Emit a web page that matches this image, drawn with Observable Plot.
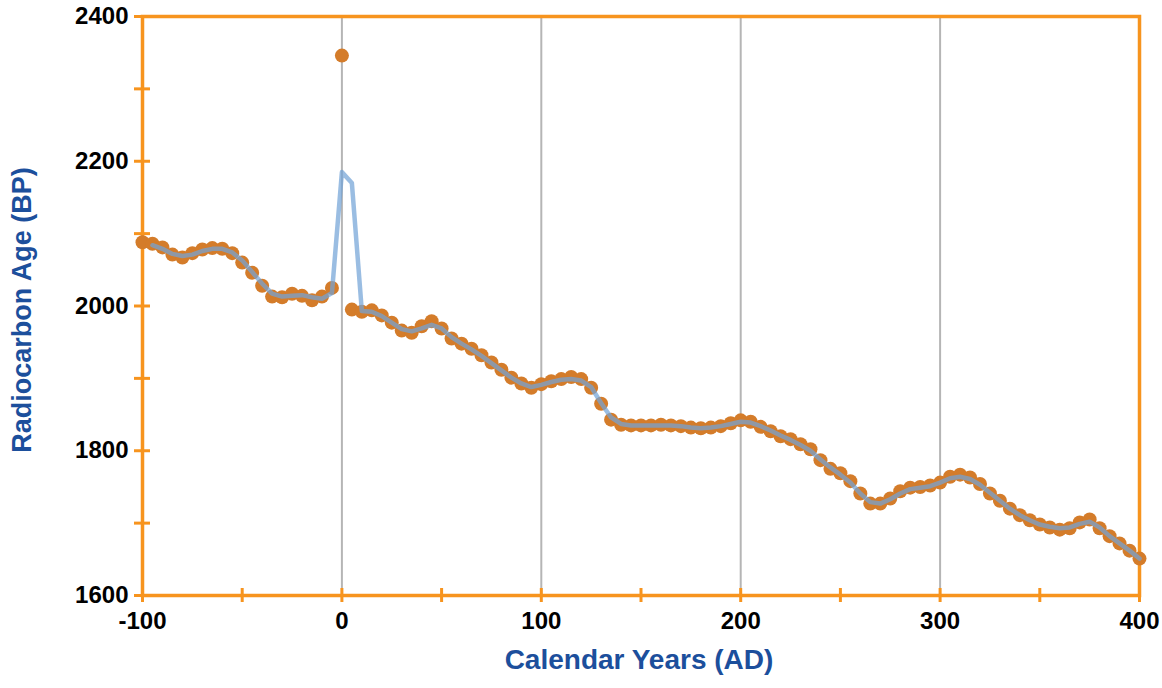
<!DOCTYPE html>
<html><head><meta charset="utf-8">
<script src="https://cdn.jsdelivr.net/npm/d3@7"></script>
<script src="https://cdn.jsdelivr.net/npm/@observablehq/plot@0.6"></script>
<style>body{margin:0;background:#fff} svg{display:block}</style>
</head><body><div id="chart"></div>
<script>
// Calendar years (AD), 5-year steps
const years = [-100,-95,-90,-85,-80,-75,-70,-65,-60,-55,-50,-45,-40,-35,-30,-25,-20,-15,-10,-5,
  0,5,10,15,20,25,30,35,40,45,50,55,60,65,70,75,80,85,90,95,
  100,105,110,115,120,125,130,135,140,145,150,155,160,165,170,175,180,185,190,195,
  200,205,210,215,220,225,230,235,240,245,250,255,260,265,270,275,280,285,290,295,
  300,305,310,315,320,325,330,335,340,345,350,355,360,365,370,375,380,385,390,395,400];
// Radiocarbon age (BP) of each point
const dotAge = [2088,2086,2081,2071,2067,2073,2078,2080,2079,2073,2060,2046,2028,2013,2012,2017,2014,2008,2013,2025,
  2346,1995,1992,1994,1987,1977,1966,1963,1972,1979,1969,1955,1948,1941,1932,1922,1912,1901,1893,1887,
  1892,1896,1899,1902,1899,1887,1865,1843,1836,1835,1835,1835,1836,1835,1834,1832,1831,1832,1834,1838,
  1842,1840,1833,1827,1820,1816,1809,1802,1787,1775,1769,1758,1741,1727,1727,1734,1744,1749,1750,1752,
  1756,1764,1767,1763,1754,1741,1731,1720,1711,1704,1698,1694,1691,1693,1701,1705,1693,1682,1672,1662,1651];
// Smoothed curve (starts at -95)
const lineYears = years.slice(1);
const lineAge = [2084,2079,2072,2069,2071,2076,2079,2079,2074,2063,2047,2031,2017,2013,2014,2015,2012,2010,2018,
  2185,2170,1993,1992,1986,1977,1968,1965,1969,1974,1969,1957,1948,1940,1931,1921,1911,1901,1893,1888,
  1891,1895,1898,1899,1897,1888,1866,1846,1837,1835,1835,1835,1835,1835,1834,1832,1831,1832,1834,1837,
  1840,1839,1834,1828,1821,1815,1808,1800,1788,1777,1767,1756,1741,1729,1727,1733,1741,1747,1749,1751,
  1756,1762,1764,1761,1753,1742,1731,1720,1711,1704,1698,1695,1693,1694,1699,1702,1694,1682,1672,1662,1651];
const gridYears = [0,100,200,300];
const xTickMarks = [-100,-50,0,50,100,150,200,250,300,350,400];
const xTickLabels = [-100,0,100,200,300,400];
const yTickMarks = [1600,1700,1800,1900,2000,2100,2200,2300,2400];
const yTickLabels = [1600,1800,2000,2200,2400];
const xTitle = "Calendar Years (AD)";
const yTitle = "Radiocarbon Age (BP)";

const dots = years.map((x,i)=>({x, y: dotAge[i]}));
const curve = lineYears.map((x,i)=>({x, y: lineAge[i]}));

const W=1162, H=688, mL=142, mR=23, mT=16, mB=93;
const plotW = W-mL-mR, plotH = H-mT-mB;
const orange = "#f7941e", blue = "#1c4f9c";

const chart = Plot.plot({
  width: W, height: H, marginLeft: mL, marginRight: mR, marginTop: mT, marginBottom: mB,
  style: {fontFamily: "'Liberation Sans', Arial, sans-serif", fontWeight: "bold", fontSize: "24px", color: "#000", background: "#fff", overflow: "visible"},
  x: {domain: [-100, 400], ticks: xTickLabels, tickSize: 0, tickPadding: 16, tickFormat: d => String(d), label: null},
  y: {domain: [1600, 2400], ticks: yTickLabels, tickSize: 0, tickPadding: 14, tickFormat: d => String(d), label: null},
  marks: [
    Plot.ruleX(gridYears, {x: d => d, stroke: "#b5b5b5", strokeWidth: 2}),
    Plot.frame({stroke: orange, strokeWidth: 3.5}),
    Plot.tickX(xTickMarks, {x: d => d, stroke: orange, strokeWidth: 3, insetTop: plotH - 7, insetBottom: -7}),
    Plot.tickY(yTickMarks, {y: d => d, stroke: orange, strokeWidth: 3, insetLeft: -8, insetRight: plotW - 8}),
    Plot.dot(dots, {x: "x", y: "y", r: 7, fill: "#d47c2a", stroke: "none"}),
    Plot.line(curve, {x: "x", y: "y", stroke: "#73a4d7", strokeWidth: 4.5, strokeOpacity: 0.72}),
    Plot.text([xTitle], {text: d => d, frameAnchor: "bottom", textAnchor: "middle", dx: -2, dy: 73, fill: blue, fontSize: 28, fontWeight: "bold"}),
    Plot.text([yTitle], {text: d => d, frameAnchor: "left", textAnchor: "middle", dx: -120, dy: 4, rotate: -90, fill: blue, fontSize: 27, fontWeight: "bold"})
  ]
});
document.getElementById("chart").append(chart);
</script>
</body></html>
